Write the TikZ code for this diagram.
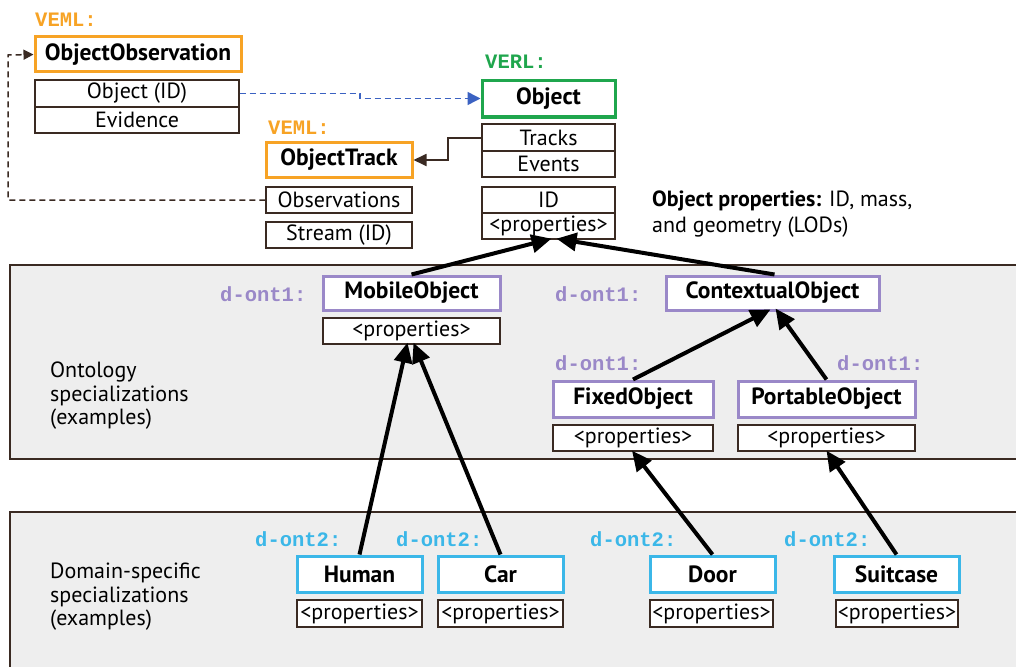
\documentclass[tikz,border=0pt]{standalone}
\usepackage{fontspec}
\setmainfont{PT Sans}
\setmonofont{Liberation Mono}
\usetikzlibrary{arrows.meta}

\definecolor{vemlc}{HTML}{F7A325}
\definecolor{verlc}{HTML}{1FA64D}
\definecolor{ontc}{HTML}{9A88C8}
\definecolor{domc}{HTML}{3BB7E8}
\definecolor{edgec}{HTML}{3A2A22}
\definecolor{panelc}{HTML}{EEEEEE}
\definecolor{linkc}{HTML}{3B62C2}

\begin{document}
\begin{tikzpicture}[x=1pt,y=-1pt,
  cls/.style={draw, line width=3pt, fill=white, inner sep=0pt,
    minimum height=35pt, font=\bfseries\fontsize{23.5}{25}\selectfont},
  attr/.style={draw=edgec, line width=1.3pt, fill=white, inner sep=0pt,
    minimum height=26pt, font=\fontsize{22}{24}\selectfont},
  tag/.style={anchor=west, inner sep=0pt,
    font=\ttfamily\bfseries\fontsize{20.5}{22}\selectfont},
  note/.style={anchor=west, inner sep=0pt, align=left,
    font=\fontsize{22}{23.5}\selectfont},
  inh/.style={line width=4pt, -{Triangle[length=20pt,width=18pt]}},
  assoc/.style={line width=1.5pt, dash pattern=on 6pt off 4pt},
  panel/.style={fill=panelc},
  panelrim/.style={draw=edgec, line width=1.5pt}
]
\path[use as bounding box, fill=white] (0,0) rectangle (1016,666);

% --- background panels
\fill[panel] (10,265) rectangle (1016,459);
\draw[panelrim] (1020,265) -- (10,265) -- (10,459) -- (1020,459);
\fill[panel] (10,512) rectangle (1016,670);
\draw[panelrim] (1020,512) -- (10,512) -- (10,670);

% --- VEML / VERL core classes
\node[tag, text=vemlc] (lObs) at (35,20) {VEML:};
\node[cls, draw=vemlc, minimum width=206pt] (obsObs) at (138,54.5) {ObjectObservation};
\node[attr, minimum width=204pt, minimum height=27pt] (objID) at (137,93.5) {Object (ID)};
\node[attr, minimum width=204pt] (evid) at (137,120) {Evidence};

\node[tag, text=verlc] (lObj) at (485,62) {VERL:};
\node[cls, draw=verlc, minimum width=133pt, minimum height=36pt] (object) at (548.5,99) {Object};
\node[attr, minimum width=133pt, minimum height=27pt] (tracks) at (548.5,137.5) {Tracks};
\node[attr, minimum width=133pt] (events) at (548.5,164) {Events};
\node[attr, minimum width=133pt] (oid) at (548.5,200) {ID};
\node[attr, minimum width=133pt] (oprops) at (548.5,226) {<properties>};

\node[tag, text=vemlc] (lTrk) at (268,128) {VEML:};
\node[cls, draw=vemlc, minimum width=146pt] (track) at (339,159.5) {ObjectTrack};
\node[attr, minimum width=146pt] (observ) at (339,200) {Observations};
\node[attr, minimum width=146pt] (stream) at (339,235) {Stream (ID)};

\node[note, font=\fontsize{22}{26}\selectfont] (propnote) at (652,214)
  {\textbf{Object properties:} ID, mass,\\and geometry (LODs)};

% --- ontology specializations
\node[note] (ontnote) at (50,396) {Ontology\\specializations\\(examples)};

\node[tag, text=ontc] (lMob) at (220,294) {d-ont1:};
\node[cls, draw=ontc, minimum width=177pt, minimum height=34pt] (mobile) at (411.5,293) {MobileObject};
\node[attr, minimum width=177pt] (mprops) at (411.5,331) {<properties>};

\node[tag, text=ontc] (lCtx) at (555,294) {d-ont1:};
\node[cls, draw=ontc, minimum width=213pt, minimum height=34pt] (context) at (772.5,293) {ContextualObject};

\node[tag, text=ontc] (lFix) at (555,363) {d-ont1:};
\node[cls, draw=ontc, minimum width=160pt, minimum height=36pt] (fixed) at (633,399) {FixedObject};
\node[attr, minimum width=160pt] (fprops) at (633,438) {<properties>};

\node[tag, text=ontc] (lPort) at (837,363) {d-ont1:};
\node[cls, draw=ontc, minimum width=177pt, minimum height=36pt] (portable) at (826.5,399) {PortableObject};
\node[attr, minimum width=177pt] (pprops) at (826.5,438) {<properties>};

% --- domain-specific specializations
\node[note] (domnote) at (50,597) {Domain-specific\\specializations\\(examples)};

\node[tag, text=domc] (lHum) at (255,539) {d-ont2:};
\node[tag, text=domc] (lCar) at (396,539) {d-ont2:};
\node[tag, text=domc] (lDoor) at (590,539) {d-ont2:};
\node[tag, text=domc] (lSuit) at (784,539) {d-ont2:};

\node[cls, draw=domc, minimum width=125pt, minimum height=36pt] (human) at (359.5,574) {Human};
\node[cls, draw=domc, minimum width=125pt, minimum height=36pt] (car) at (500.5,574) {Car};
\node[cls, draw=domc, minimum width=125pt, minimum height=36pt] (door) at (712.5,574) {Door};
\node[cls, draw=domc, minimum width=125pt, minimum height=36pt] (suitcase) at (896.5,574) {Suitcase};

\node[attr, minimum width=125pt, minimum height=27pt] (hprops) at (359.5,613.5) {<properties>};
\node[attr, minimum width=125pt, minimum height=27pt] (cprops) at (500.5,613.5) {<properties>};
\node[attr, minimum width=123pt, minimum height=27pt] (dprops) at (711.5,613.5) {<properties>};
\node[attr, minimum width=122pt, minimum height=27pt] (sprops) at (897,613.5) {<properties>};

% --- associations
\coordinate (obsTurn) at (8,200);
\coordinate (obsUp) at (8,55);
\draw[assoc, edgec, -{Triangle[length=10pt,width=10pt]}]
  (observ.west) -- (obsTurn) -- (obsUp) -- (obsObs.west);

\coordinate (linkA) at (360,93.5);
\coordinate (linkB) at (360,98.5);
\draw[assoc, linkc, -{Triangle[length=13pt,width=13pt]}]
  (objID.east) -- (linkA) -- (linkB) -- (linkB -| object.west);

\coordinate (trkA) at (448,138);
\coordinate (trkB) at (448,160);
\draw[edgec, line width=1.8pt, -{Triangle[length=13pt,width=12pt]}]
  (tracks.west |- trkA) -- (trkA) -- (trkB) -- (trkB -| track.east);

% --- specialization arrows
\draw[inh] (mobile.north) -- ([xshift=3pt,yshift=1pt]oprops.south);
\draw[inh] ([xshift=2pt]context.north) -- ([xshift=8pt,yshift=1pt]oprops.south);
\draw[inh] (fixed.north) -- ([xshift=-2pt,yshift=2pt]context.south);
\draw[inh] (portable.north) -- ([xshift=3pt,yshift=3pt]context.south);
\draw[inh] (human.north) -- ([xshift=-4pt,yshift=2pt]mprops.south);
\draw[inh] (car.north) -- ([xshift=2pt,yshift=2pt]mprops.south);
\draw[inh] (door.north) -- ([xshift=-1pt,yshift=1pt]fprops.south);
\draw[inh] (suitcase.north) -- ([yshift=1pt]pprops.south);
\end{tikzpicture}
\end{document}
